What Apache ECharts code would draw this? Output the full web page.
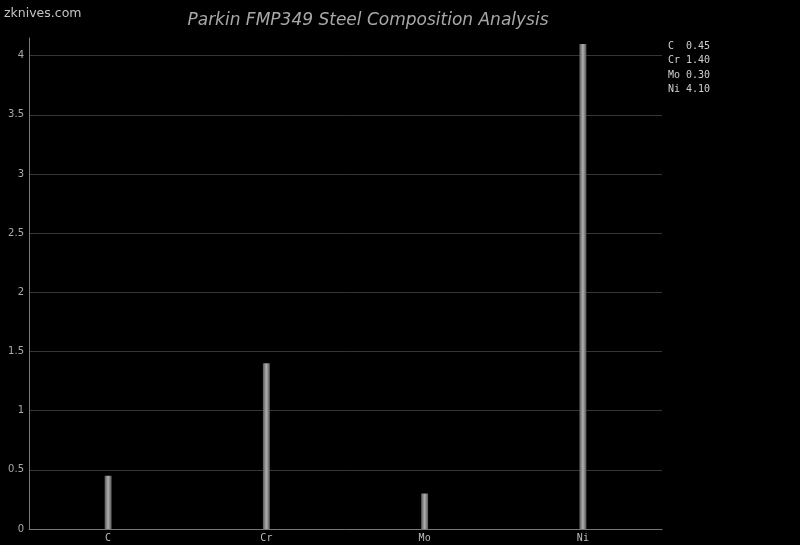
<!DOCTYPE html>
<html><head><meta charset="utf-8">
<script src="https://cdn.jsdelivr.net/npm/echarts@6/dist/echarts.min.js"></script>
<style>html,body{margin:0;padding:0;background:#000;}#c{width:800px;height:545px;}</style>
</head><body><div id="c"></div>
<script>
var categories = ['C', 'Cr', 'Mo', 'Ni'];
var values = [0.45, 1.40, 0.30, 4.10];
var legendLabels = ['C  0.45', 'Cr 1.40', 'Mo 0.30', 'Ni 4.10'];
var titleText = 'Parkin FMP349 Steel Composition Analysis';
var siteText = 'zknives.com';

var chart = echarts.init(document.getElementById('c'), null, {renderer: 'canvas'});
var legendGraphics = legendLabels.map(function (t, i) {
  return {type: 'text', left: 668, top: 41 + i * 14.6,
    style: {text: t, fill: '#cfcfcf', font: '10px "DejaVu Sans Mono", monospace'}};
});
chart.setOption({
  backgroundColor: '#000',
  animation: false,
  title: {text: titleText, left: 363, top: 7, textAlign: 'center',
    textStyle: {color: '#a8a8a8', fontSize: 17, fontStyle: 'italic', fontWeight: 'normal', fontFamily: 'DejaVu Sans'}},
  graphic: [{type: 'text', left: 4, top: 7,
    style: {text: siteText, fill: '#c4c4c4', font: '12.5px "DejaVu Sans"'}}].concat(legendGraphics),
  grid: {left: 29, right: 138, top: 38, bottom: 16, containLabel: false},
  xAxis: {type: 'category', data: categories,
    axisLine: {lineStyle: {color: '#777', width: 1}},
    axisTick: {show: false},
    axisLabel: {color: '#bbb', fontFamily: 'DejaVu Sans Mono', fontSize: 10, margin: 4}},
  yAxis: {type: 'value', min: 0, max: 4.15, interval: 0.5,
    axisLine: {show: true, lineStyle: {color: '#777', width: 1}},
    axisTick: {show: false},
    axisLabel: {color: '#aaa', fontFamily: 'DejaVu Sans', fontSize: 10, margin: 5, showMaxLabel: false},
    splitLine: {show: true, showMaxLine: false, showMinLine: false, lineStyle: {color: '#363636', width: 1}}},
  series: [{type: 'bar', data: values, barWidth: 7,
    itemStyle: {color: new echarts.graphic.LinearGradient(0, 0, 1, 0, [
      {offset: 0, color: '#555'}, {offset: 0.5, color: '#b0b0b0'}, {offset: 1, color: '#555'}])}}]
});
</script></body></html>
